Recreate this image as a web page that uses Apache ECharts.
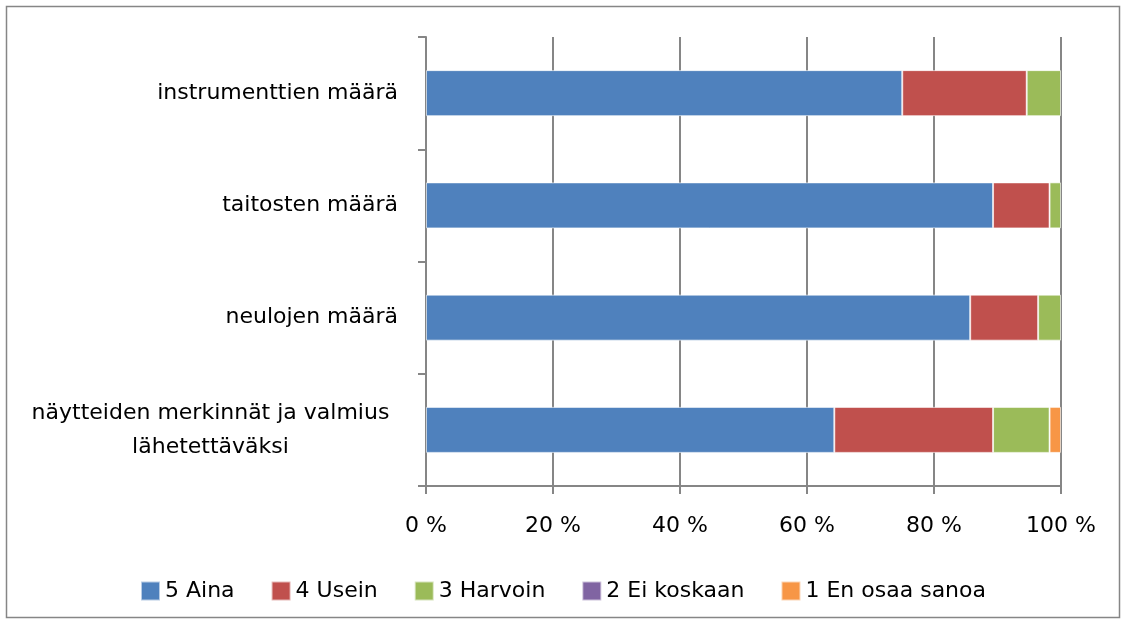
<!DOCTYPE html>
<html>
<head>
<meta charset="utf-8">
<script src="https://cdn.jsdelivr.net/npm/echarts@6/dist/echarts.min.js"></script>
<style>
  html, body { margin: 0; padding: 0; background: #fff; }
  #chart { width: 1126px; height: 624px; }
</style>
</head>
<body>
<div id="chart"></div>
<script>
// categories, top to bottom
var categories = [
  "instrumenttien määrä",
  "taitosten määrä",
  "neulojen määrä",
  "näytteiden merkinnät ja valmius\nlähetettäväksi"
];
var seriesNames = ["5 Aina", "4 Usein", "3 Harvoin", "2 Ei koskaan", "1 En osaa sanoa"];
// percentages per category (same order as categories)
var aina = [75.0, 89.3, 85.7, 64.3];
var usein = [19.6, 8.9, 10.7, 25.0];
var harvoin = [5.4, 1.8, 3.6, 8.9];
var eiKoskaan = [0, 0, 0, 0];
var enOsaa = [0, 0, 0, 1.8];
var xTicks = [0, 20, 40, 60, 80, 100];

var colors = ["#4F81BD", "#C0504D", "#9BBB59", "#8064A2", "#F79646"];
var font = "'DejaVu Sans', sans-serif";
var fsize = 22;

var chart = echarts.init(document.getElementById("chart"));
var values = [aina, usein, harvoin, eiKoskaan, enOsaa];
var series = values.map(function (arr, i) {
  return {
    name: seriesNames[i],
    type: "bar",
    stack: "total",
    barWidth: 46,
    data: arr.map(function (v) { return v === 0 ? null : v; }),
    itemStyle: {
      color: colors[i],
      borderColor: "rgba(255,255,255,0.6)",
      borderWidth: 1
    }
  };
});

var option = {
  animation: false,
  color: colors,
  graphic: [{
    type: "rect",
    shape: { x: 6.5, y: 6.5, width: 1113, height: 611 },
    style: { fill: null, stroke: "#868686", lineWidth: 1.5 },
    silent: true
  }],
  grid: { left: 426, right: 65, top: 37, bottom: 138 },
  legend: {
    top: 575,
    left: "center",
    itemWidth: 19,
    itemHeight: 19,
    itemGap: 36,
    icon: "rect",
    textStyle: { color: "#000", fontSize: fsize, fontFamily: font },
    data: seriesNames
  },
  xAxis: {
    type: "value",
    min: xTicks[0],
    max: xTicks[xTicks.length - 1],
    interval: 20,
    axisLine: { show: true, lineStyle: { color: "#868686", width: 2 } },
    axisTick: { show: true, length: 8, lineStyle: { color: "#868686", width: 2 } },
    splitLine: { show: true, lineStyle: { color: "#868686", width: 2 } },
    axisLabel: {
      margin: 29,
      color: "#000",
      fontSize: fsize,
      fontFamily: font,
      formatter: "{value} %"
    }
  },
  yAxis: {
    type: "category",
    inverse: true,
    data: categories,
    axisLine: { show: true, lineStyle: { color: "#868686", width: 2 } },
    axisTick: { show: true, length: 8, lineStyle: { color: "#868686", width: 2 } },
    axisLabel: {
      margin: 28,
      color: "#000",
      fontSize: fsize,
      fontFamily: font,
      lineHeight: 34,
      formatter: function (v) {
        if (v.indexOf("\n") < 0) return v;
        return v.split("\n").map(function (s) { return "{c|" + s + "}"; }).join("\n");
      },
      rich: {
        c: { width: 375, align: "center", fontSize: fsize, fontFamily: font, color: "#000", lineHeight: 34 }
      }
    }
  },
  series: series
};
chart.setOption(option);
</script>
</body>
</html>
